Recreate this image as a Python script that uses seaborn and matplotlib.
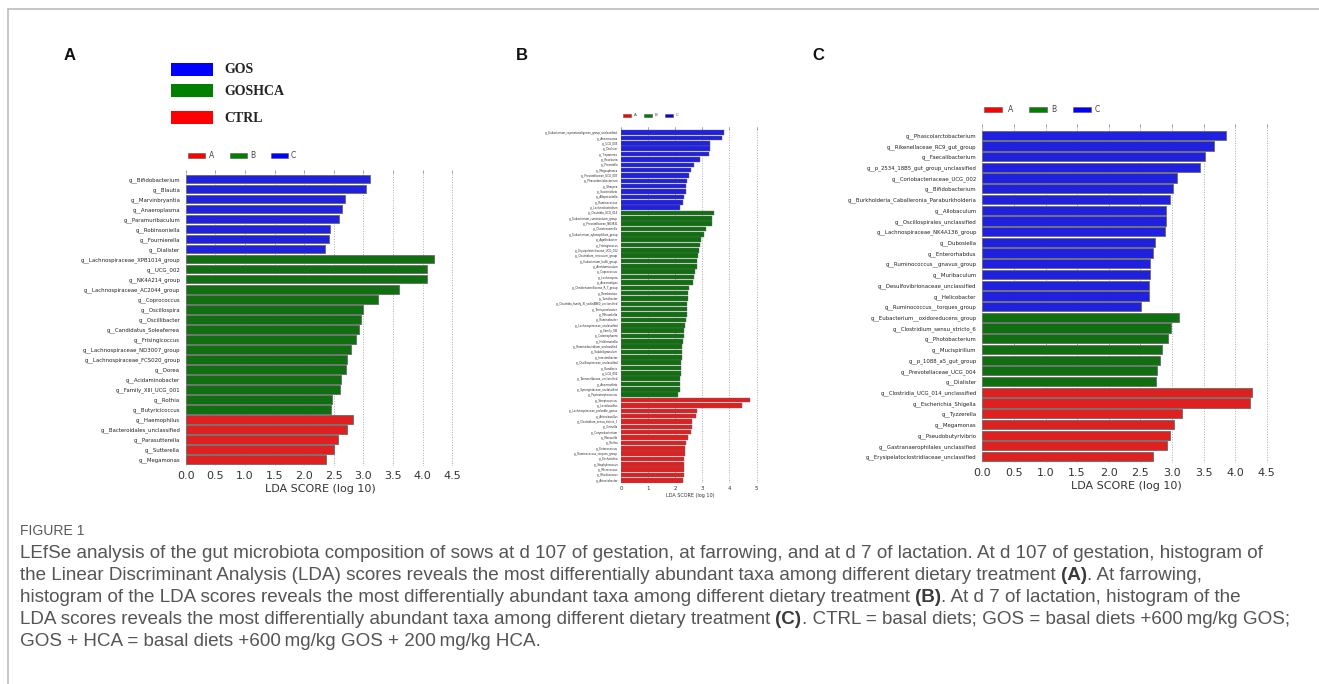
import matplotlib
matplotlib.use("Agg")
import matplotlib.pyplot as plt
import seaborn as sns
import pandas as pd
from matplotlib.patches import Rectangle
from matplotlib.lines import Line2D

# ---------------- data ----------------
a_taxa_C = ["g__Bifidobacterium", "g__Blautia", "g__Marvinbryantia", "g__Anaeroplasma",
            "g__Paramuribaculum", "g__Robinsoniella", "g__Fournierella", "g__Dialister"]
a_vals_C = [3.12, 3.05, 2.69, 2.64, 2.59, 2.44, 2.42, 2.35]
a_taxa_B = ["g__Lachnospiraceae_XPB1014_group", "g__UCG_002", "g__NK4A214_group",
            "g__Lachnospiraceae_AC2044_group", "g__Coprococcus", "g__Oscillospira",
            "g__Oscillibacter", "g__Candidatus_Soleaferrea", "g__Frisingicoccus",
            "g__Lachnospiraceae_ND3007_group", "g__Lachnospiraceae_FCS020_group", "g__Dorea",
            "g__Acidaminobacter", "g__Family_XIII_UCG_001", "g__Rothia", "g__Butyricicoccus"]
a_vals_B = [4.19, 4.08, 4.07, 3.60, 3.24, 3.00, 2.96, 2.92, 2.87, 2.79, 2.73, 2.71,
            2.62, 2.60, 2.47, 2.46]
a_taxa_A = ["g__Haemophilus", "g__Bacteroidales_unclassified", "g__Parasutterella",
            "g__Sutterella", "g__Megamonas"]
a_vals_A = [2.83, 2.73, 2.57, 2.50, 2.37]

b_taxa_C = ["g__Eubacterium_coprostanoligenes_group_unclassified", "g__Anaerovorax", "g__UCG_005",
            "g__Dialister", "g__Treponema", "g__Roseburia", "g__Prevotella", "g__Megasphaera",
            "g__Prevotellaceae_UCG_003", "g__Phascolarctobacterium", "g__Sharpea", "g__Succinivibrio",
            "g__Alloprevotella", "g__Ruminococcus", "g__Lachnoclostridium"]
b_vals_C = [3.79, 3.73, 3.29, 3.28, 3.23, 2.93, 2.69, 2.59, 2.52, 2.44, 2.40, 2.39, 2.31, 2.29, 2.18]
b_taxa_B = ["g__Clostridia_UCG_014", "g__Eubacterium_ruminantium_group", "g__Prevotellaceae_NK3B31",
            "g__Christensenella", "g__Eubacterium_xylanophilum_group", "g__Agathobacter",
            "g__Frisingicoccus", "g__Erysipelotrichaceae_UCG_002", "g__Clostridium_innocuum_group",
            "g__Eubacterium_hallii_group", "g__Acetitomaculum", "g__Coprococcus", "g__Lachnospira",
            "g__Anaerostipes", "g__Christensenellaceae_R_7_group", "g__Romboutsia", "g__Turicibacter",
            "g__Clostridia_family_XI_vadinBB60_unclassified", "g__Terrisporobacter", "g__Mitsuokella",
            "g__Ruminobacter", "g__Lachnospiraceae_unclassified", "g__Family_XIII", "g__Catenisphaera",
            "g__Holdemanella", "g__Ruminiclostridium_unclassified", "g__Subdoligranulum",
            "g__Intestinibacter", "g__Oscillospiraceae_unclassified", "g__Kandleria", "g__UCG_002",
            "g__Tannerellaceae_unclassified", "g__Anaerovibrio", "g__Synergistaceae_unclassified",
            "g__Peptostreptococcus"]
b_vals_B = [3.44, 3.36, 3.34, 3.13, 3.07, 2.97, 2.91, 2.88, 2.85, 2.81, 2.79, 2.72, 2.69, 2.64,
            2.52, 2.49, 2.47, 2.45, 2.44, 2.43, 2.40, 2.38, 2.33, 2.31, 2.28, 2.26, 2.25, 2.24,
            2.23, 2.21, 2.20, 2.18, 2.17, 2.16, 2.09]
b_taxa_A = ["g__Streptococcus", "g__Lactobacillus", "g__Lachnospiraceae_probable_genus",
            "g__Actinobacillus", "g__Clostridium_sensu_stricto_1", "g__Gemella", "g__Corynebacterium",
            "g__Moraxella", "g__Rothia", "g__Enterococcus", "g__Ruminococcus_torques_group",
            "g__Escherichia", "g__Staphylococcus", "g__Micrococcus", "g__Rhodococcus",
            "g__Acinetobacter"]
b_vals_A = [4.76, 4.45, 2.80, 2.77, 2.62, 2.61, 2.59, 2.48, 2.39, 2.37, 2.35, 2.34, 2.33,
            2.32, 2.32, 2.30]

c_taxa_C = ["g__Phascolarctobacterium", "g__Rikenellaceae_RC9_gut_group", "g__Faecalibacterium",
            "g__p_2534_18B5_gut_group_unclassified", "g__Coriobacteriaceae_UCG_002",
            "g__Bifidobacterium", "g__Burkholderia_Caballeronia_Paraburkholderia", "g__Allobaculum",
            "g__Oscillospirales_unclassified", "g__Lachnospiraceae_NK4A136_group", "g__Dubosiella",
            "g__Enterorhabdus", "g__Ruminococcus__gnavus_group", "g__Muribaculum",
            "g__Desulfovibrionaceae_unclassified", "g__Helicobacter", "g__Ruminococcus__torques_group"]
c_vals_C = [3.85, 3.67, 3.52, 3.44, 3.08, 3.01, 2.97, 2.91, 2.90, 2.89, 2.74, 2.70, 2.65,
            2.65, 2.64, 2.63, 2.51]
c_taxa_B = ["g__Eubacterium__oxidoreducens_group", "g__Clostridium_sensu_stricto_6",
            "g__Photobacterium", "g__Mucispirillum", "g__p_1088_a5_gut_group",
            "g__Prevotellaceae_UCG_004", "g__Dialister"]
c_vals_B = [3.12, 2.99, 2.94, 2.84, 2.81, 2.76, 2.75]
c_taxa_A = ["g__Clostridia_UCG_014_unclassified", "g__Escherichia_Shigella", "g__Tyzzerella",
            "g__Megamonas", "g__Pseudobutyrivibrio", "g__Gastranaerophilales_unclassified",
            "g__Erysipelatoclostridiaceae_unclassified"]
c_vals_A = [4.27, 4.24, 3.16, 3.04, 2.97, 2.92, 2.70]

classes = ["A", "B", "C"]
class_colors = {"A": "#ff0000", "B": "#007f00", "C": "#0000ff"}
group_names = ["GOS", "GOSHCA", "CTRL"]
group_colors = ["#0000ff", "#007f00", "#ff0000"]
ticks_AC = [0.0, 0.5, 1.0, 1.5, 2.0, 2.5, 3.0, 3.5, 4.0, 4.5]
ticks_B = [0, 1, 2, 3, 4, 5]
xlabel = "LDA SCORE (log 10)"


def make_df(tc, vc, tb, vb, ta, va):
    return pd.DataFrame({
        "taxon": tc + tb + ta,
        "score": vc + vb + va,
        "cls": ["C"] * len(tc) + ["B"] * len(tb) + ["A"] * len(ta),
    })


dfA = make_df(a_taxa_C, a_vals_C, a_taxa_B, a_vals_B, a_taxa_A, a_vals_A)
dfB = make_df(b_taxa_C, b_vals_C, b_taxa_B, b_vals_B, b_taxa_A, b_vals_A)
dfC = make_df(c_taxa_C, c_vals_C, c_taxa_B, c_vals_B, c_taxa_A, c_vals_A)

# ---------------- figure ----------------
W, H = 1319, 684
sns.set_theme(style="white")
plt.rcParams["font.family"] = ["DejaVu Sans"]
fig = plt.figure(figsize=(W / 100, H / 100), dpi=100)
fig.patch.set_facecolor("white")


def fx(px):
    return px / W


def fy(py):
    return 1 - py / H


def axes_px(left, right, top, bottom):
    return fig.add_axes([fx(left), fy(bottom), (right - left) / W, (bottom - top) / H])


def panel(ax, df, xmax, ticks, ylim, lab_fs, tick_fs, xl_fs, pad, lw, tpad, lpad):
    sns.barplot(data=df, x="score", y="taxon", hue="cls", palette=class_colors,
                order=list(df["taxon"]), hue_order=classes, dodge=False, width=0.86,
                edgecolor="#6a6a6a", linewidth=lw, legend=False, ax=ax, orient="h")
    ax.set_xlim(0, xmax)
    ax.set_ylim(*ylim)
    ax.set_xticks(ticks)
    ax.set_xticklabels([("%g" % t) if isinstance(t, int) else ("%.1f" % t) for t in ticks],
                       fontsize=tick_fs, color="#333333")
    ax.set_xlabel(xlabel, fontsize=xl_fs, color="#333333", labelpad=lpad)
    ax.set_ylabel("")
    ax.tick_params(axis="y", length=0, pad=pad, labelsize=lab_fs, labelcolor="#222222")
    ax.tick_params(axis="x", bottom=False, top=True, direction="in", length=2,
                   width=0.5, color="#888888", labelbottom=True, pad=tpad)
    ax.xaxis.grid(True, linestyle=":", color="#aaaaaa", linewidth=0.7)
    ax.yaxis.grid(False)
    ax.set_axisbelow(True)
    for s in ax.spines.values():
        s.set_visible(False)
    ax.set_facecolor("white")


axA = axes_px(185.7, 185.7 + 4.56 * 59.2, 170, 466)
panel(axA, dfA, 4.56, ticks_AC, (28.65, -0.9), 3.9, 8, 8, 4, 0.6, 3.5, 2.5)

axB = axes_px(621, 621 + 5.1 * 27.1, 127, 483)
panel(axB, dfB, 5.1, ticks_B, (65.5, -1.07), 1.9, 4, 3.5, 2, 0.3, 2, 1.5)

axC = axes_px(982.3, 982.3 + 4.56 * 63.2, 124, 463)
panel(axC, dfC, 4.56, ticks_AC, (30.6, -1.05), 3.9, 8, 8, 4, 0.6, 3.5, 2.5)


# small class legends (A/B/C) above each panel
def class_legend(xs_patch, xs_text, y, pw, ph, fs):
    for cl, xp, xt in zip(classes, xs_patch, xs_text):
        fig.patches.append(Rectangle((fx(xp), fy(y + ph / 2)), pw / W, ph / H,
                                     facecolor=class_colors[cl], edgecolor="#555555",
                                     linewidth=0.4, transform=fig.transFigure))
        fig.text(fx(xt), fy(y), cl, fontsize=fs, color="#444444", va="center", ha="left")


class_legend([188, 230, 271], [209, 250, 291], 155.3, 16.5, 5, 5.5)
class_legend([623, 644, 665], [633.5, 654.5, 675.5], 115.3, 8, 2.6, 3)
class_legend([984.3, 1029, 1073], [1008, 1051, 1095], 109.7, 17.5, 5.5, 5.5)

# group legend (GOS / GOSHCA / CTRL)
for name, col, yc in zip(group_names, group_colors, [69.2, 90.8, 117.8]):
    fig.patches.append(Rectangle((fx(171), fy(yc + 6.5)), 42 / W, 13 / H, facecolor=col,
                                 edgecolor="none", transform=fig.transFigure))
    fig.text(fx(224), fy(yc + 0.5), name, fontsize=10, fontweight="bold",
             family=["Liberation Serif", "DejaVu Serif"], color="#222222",
             va="center", ha="left")

# panel letters
for letter, x in zip(["A", "B", "C"], [70, 522, 818]):
    fig.text(fx(x), fy(55), letter, fontsize=12, fontweight="bold",
             family=["Liberation Sans", "DejaVu Sans"], ha="center", va="center",
             color="#111111")

# frame lines
fig.add_artist(Line2D([fx(8), 1.0], [fy(9), fy(9)], transform=fig.transFigure,
                      color="#bdbdbd", linewidth=1.2))
fig.add_artist(Line2D([fx(8), fx(8)], [fy(9), 0.0], transform=fig.transFigure,
                      color="#bdbdbd", linewidth=1.2))

# ---------------- caption ----------------
cap_family = ["Liberation Sans", "DejaVu Sans"]
cap_color = "#555555"
renderer = fig.canvas.get_renderer()

lines = [
    [("LEfSe analysis of the gut microbiota composition of sows at d 107 of gestation, at farrowing, "
      "and at d 7 of lactation. At d 107 of gestation, histogram of", False)],
    [("the Linear Discriminant Analysis (LDA) scores reveals the most differentially abundant taxa "
      "among different dietary treatment ", False), ("(A)", True), (". At farrowing,", False)],
    [("histogram of the LDA scores reveals the most differentially abundant taxa among different "
      "dietary treatment ", False), ("(B)", True), (". At d 7 of lactation, histogram of the", False)],
    [("LDA scores reveals the most differentially abundant taxa among different dietary treatment ",
      False), ("(C)", True), (". CTRL = basal diets; GOS = basal diets +600\u2009mg/kg GOS;", False)],
    [("GOS + HCA = basal diets +600\u2009mg/kg GOS + 200\u2009mg/kg HCA.", False)],
]


def line_width(segs, size):
    total = 0
    for txt, bold in segs:
        p = fig.text(0, 0, txt, fontsize=size, family=cap_family,
                     fontweight="bold" if bold else "normal")
        total += p.get_window_extent(renderer).width
        p.remove()
    return total


widest = max(line_width(s, 10) for s in lines)
cap_fs = 10 * 1282 / widest

fig.text(fx(20), fy(535), "FIGURE 1", fontsize=cap_fs * 0.74, family=cap_family,
         color="#5a5a5a", va="baseline", ha="left")

for i, segs in enumerate(lines):
    ybase = 558 + 22 * i
    x = 20
    for txt, bold in segs:
        t = fig.text(fx(x), fy(ybase), txt, fontsize=cap_fs,
                     fontweight="bold" if bold else "normal", family=cap_family,
                     color="#3a3a3a" if bold else cap_color, va="baseline", ha="left")
        x += t.get_window_extent(renderer).width

fig.savefig("out.png", dpi=100, facecolor="white")
